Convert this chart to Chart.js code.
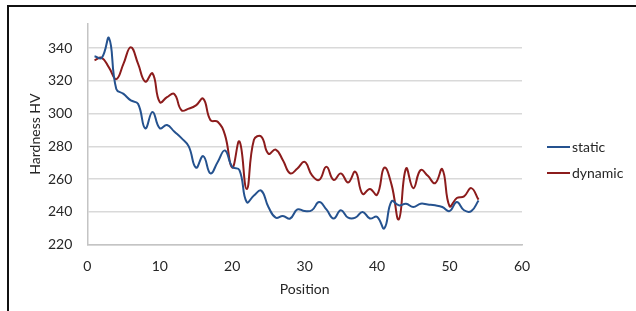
<!DOCTYPE html>
<html>
<head>
<meta charset="UTF-8">
<title>Hardness HV</title>
<script src="https://cdn.jsdelivr.net/npm/chart.js@4.4.1/dist/chart.umd.min.js"></script>
<style>
  html, body { margin: 0; padding: 0; background: #fff; }
  #wrap { position: relative; width: 636px; height: 311px; overflow: hidden; }
  #frame {
    position: absolute; left: 7px; top: 5px; width: 640px; height: 320px;
    border-top: 2px solid #111; border-left: 2px solid #111;
  }
  canvas { position: absolute; left: 0; top: 0; }
  .leg { position: absolute; left: 547px; font: 14px Lato, sans-serif; color: #262626; line-height: 16px; }
  .leg span { display: inline-block; width: 23px; height: 2px; vertical-align: middle; margin-right: 2px; margin-top: -2px; }
</style>
</head>
<body>
<div id="wrap">
  <div id="frame"></div>
  <canvas id="chart" width="636" height="311"></canvas>
  <div class="leg" style="top:139px"><span style="background:#25528f"></span>static</div>
  <div class="leg" style="top:165px"><span style="background:#8c1c1c"></span>dynamic</div>
</div>
<script>
// positions along the sample
const positions = [1, 2, 3, 4, 5, 6, 7, 8, 9, 10, 11, 12, 13, 14, 15, 16, 17, 18, 19, 20,
  21, 22, 23, 24, 25, 26, 27, 28, 29, 30, 31, 32, 33, 34, 35, 36, 37, 38, 39, 40,
  41, 42, 43, 44, 45, 46, 47, 48, 49, 50, 51, 52, 53, 54];

const staticHV = [335, 334, 346, 315, 312, 308, 306, 291, 301, 291, 293, 289, 285, 280, 267, 274, 263.5, 270.5, 277.5, 267.5,
  265.5, 246, 250, 253, 243, 236.5, 237.5, 236, 241.5, 240.5, 241, 246, 241.5, 236, 241, 236.5, 236.5, 240, 236, 237,
  230, 246.5, 244, 245, 243, 245, 244.5, 244, 243, 240.5, 246, 241, 240.5, 247];

const dynamicHV = [332.5, 334, 328, 321, 330.5, 340.5, 330.5, 319.5, 324.5, 307, 310, 312, 302, 303, 305, 309, 296, 295, 287, 267,
  283, 254, 284, 286, 275.5, 278, 271.5, 263.5, 266.5, 270.5, 262.5, 259.5, 267.5, 259.5, 263.5, 258, 264.5, 251, 254, 250.5,
  267, 256.5, 235.5, 266.5, 254.5, 265.5, 262, 257.5, 266, 243.5, 248.5, 249.5, 254.5, 247.5];

const xTicks = [0, 10, 20, 30, 40, 50, 60];
const yTicks = [220, 240, 260, 280, 300, 320, 340];

const font = { family: 'Lato, sans-serif', size: 14 };
const textColor = '#262626';

new Chart(document.getElementById('chart'), {
  type: 'line',
  data: {
    datasets: [
      {
        label: 'static',
        data: positions.map((p, i) => ({ x: p, y: staticHV[i] })),
        borderColor: '#25528f',
        backgroundColor: '#25528f',
        borderWidth: 2,
        pointRadius: 0,
        tension: 0.45,
        fill: false
      },
      {
        label: 'dynamic',
        data: positions.map((p, i) => ({ x: p, y: dynamicHV[i] })),
        borderColor: '#8c1c1c',
        backgroundColor: '#8c1c1c',
        borderWidth: 2,
        pointRadius: 0,
        tension: 0.45,
        fill: false
      }
    ]
  },
  options: {
    responsive: false,
    animation: false,
    layout: { padding: { left: 18, right: 114, top: 23, bottom: 9 } },
    plugins: { legend: { display: false }, tooltip: { enabled: false } },
    scales: {
      x: {
        type: 'linear',
        min: xTicks[0],
        max: xTicks[xTicks.length - 1],
        afterBuildTicks: s => { s.ticks = xTicks.map(v => ({ value: v })); },
        afterFit: s => { s.height = 57.3; },
        ticks: { font: font, color: textColor, padding: 13, maxRotation: 0 },
        grid: { display: false, drawTicks: false },
        border: { display: true, color: '#c4c4c4', width: 1.5 },
        title: { display: true, text: 'Position', font: font, color: textColor, padding: { top: 6, bottom: 4 } }
      },
      y: {
        min: 220,
        max: 355,
        afterBuildTicks: s => { s.ticks = yTicks.map(v => ({ value: v })); },
        afterFit: s => { s.width = 69.3; },
        ticks: { font: font, color: textColor, padding: 15 },
        grid: { color: '#d9d9d9', lineWidth: 1.5, drawTicks: false },
        border: { display: true, color: '#c4c4c4', width: 1.5 },
        title: { display: true, text: 'Hardness HV', font: font, color: textColor, padding: 9 }
      }
    }
  }
});
</script>
</body>
</html>
